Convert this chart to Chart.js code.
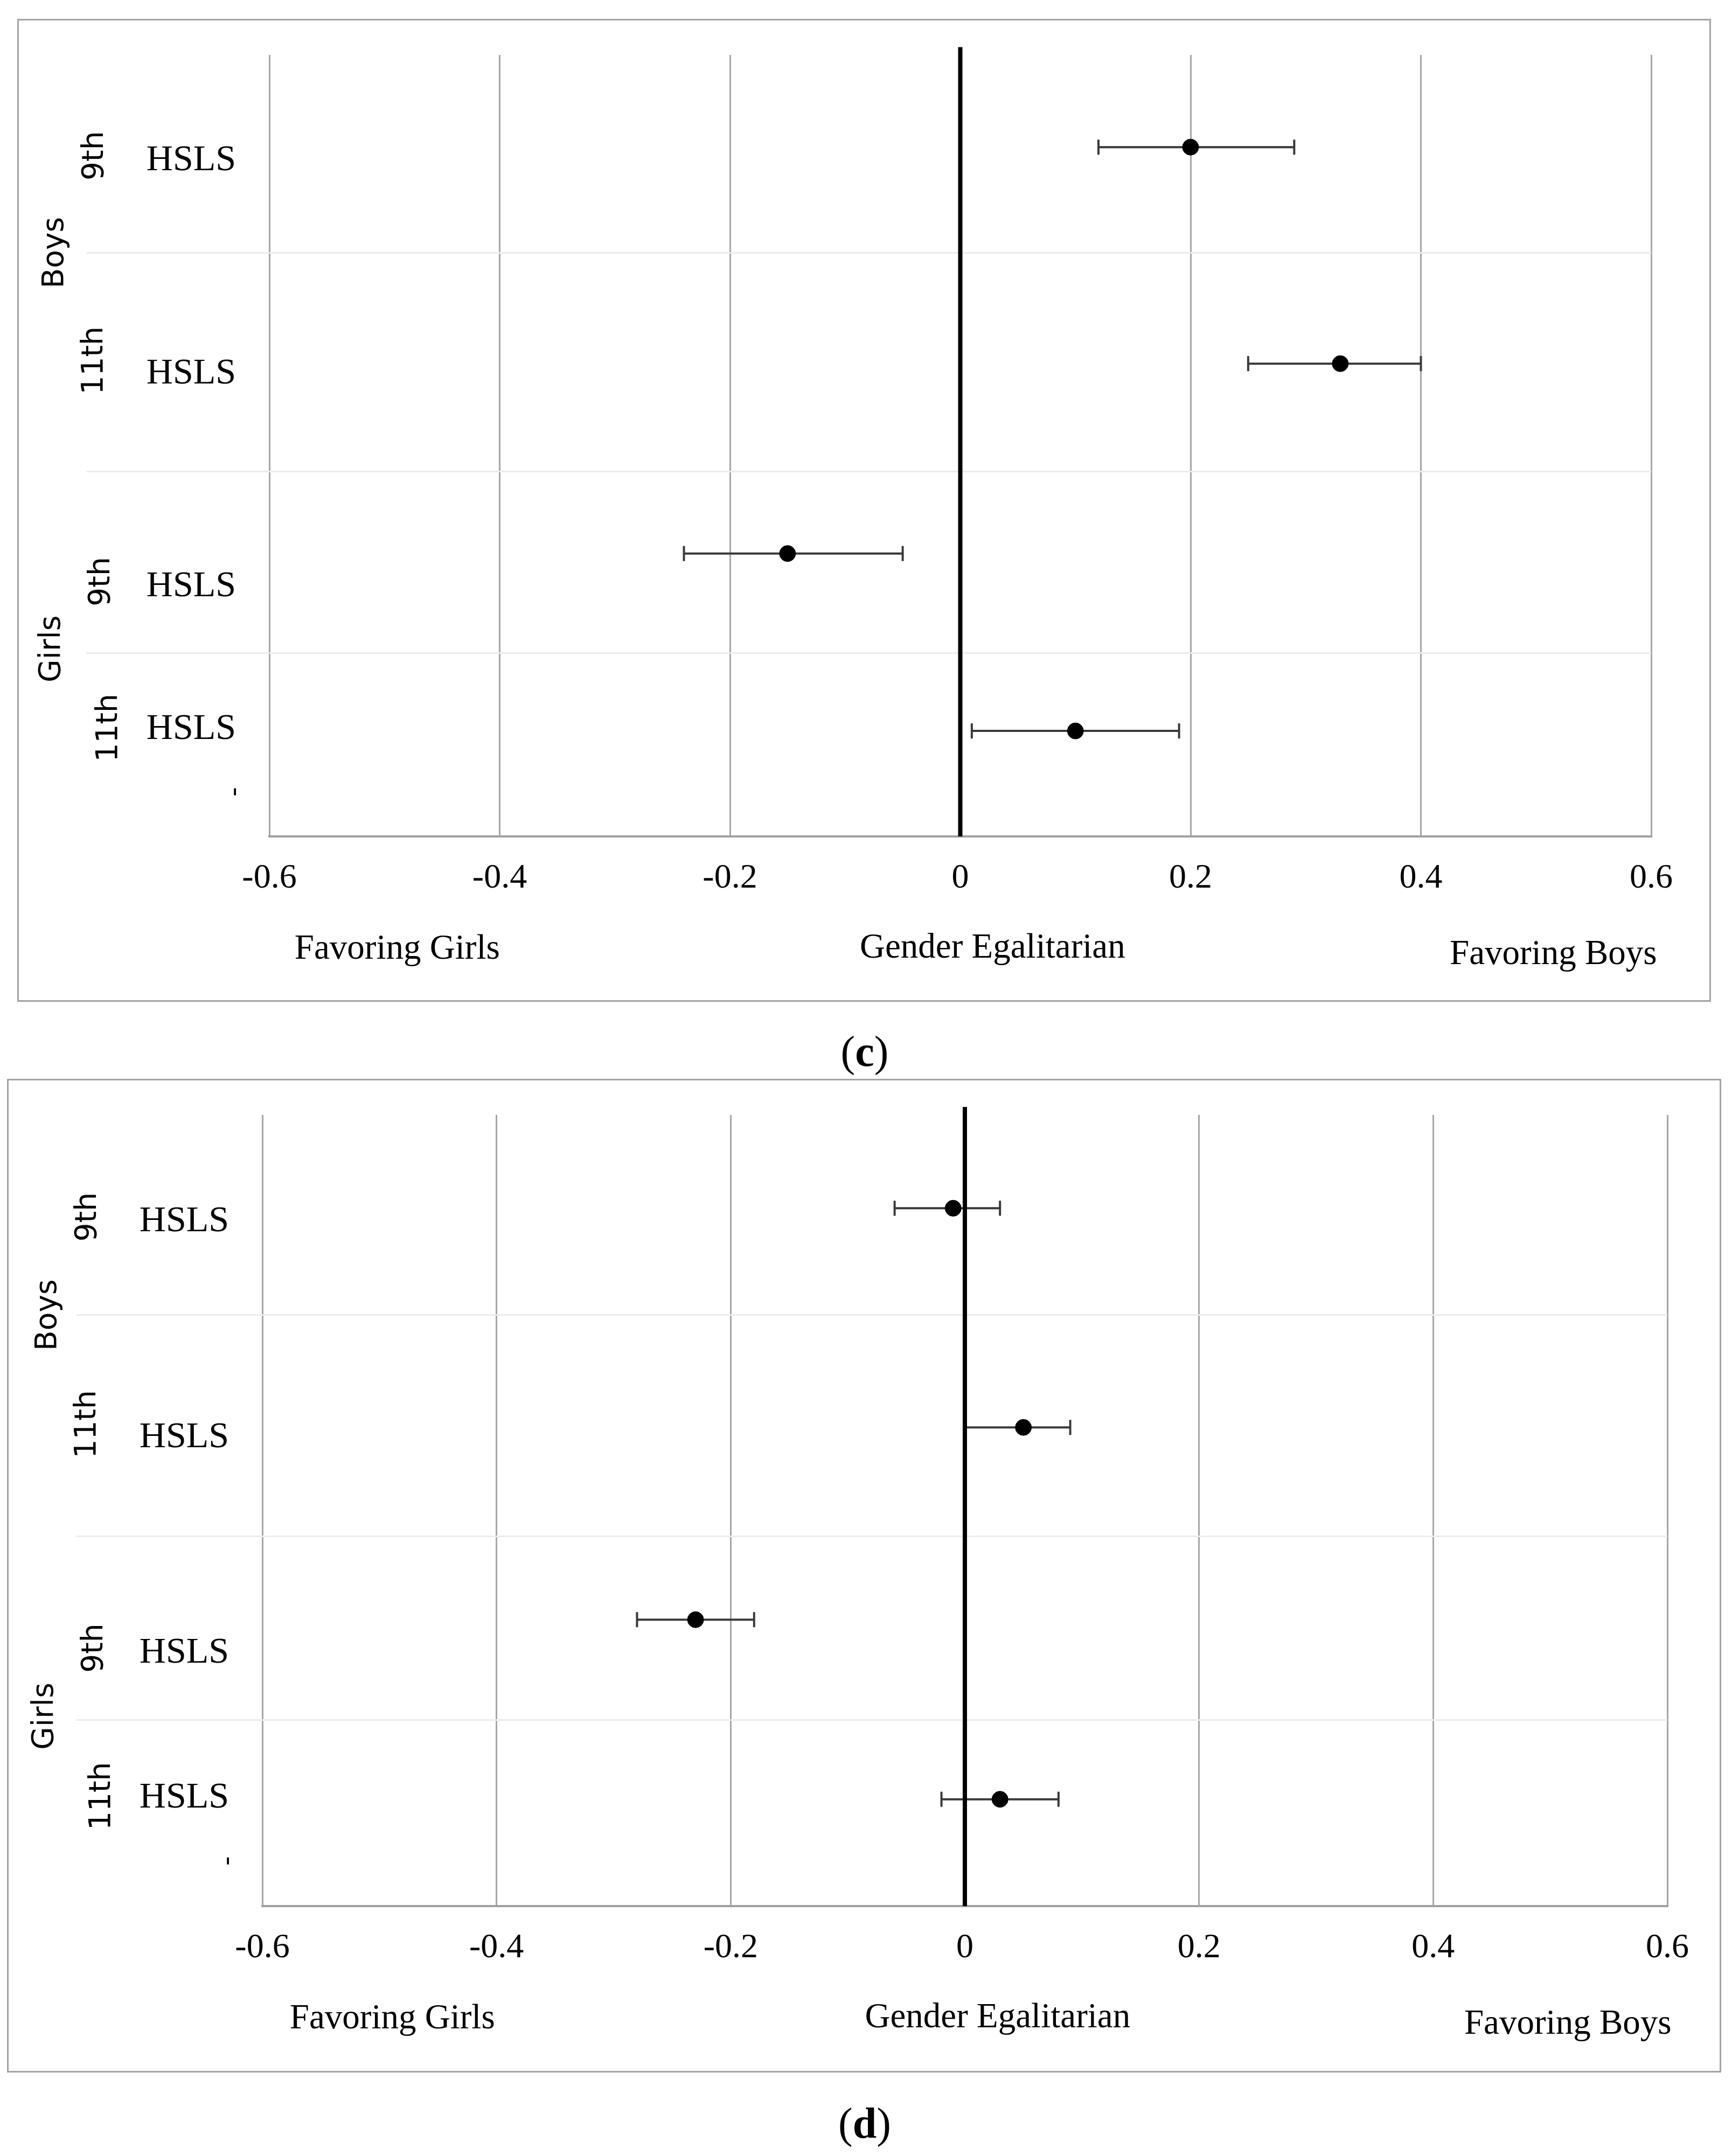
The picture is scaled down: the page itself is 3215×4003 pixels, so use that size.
<!DOCTYPE html>
<html>
<head>
<meta charset="utf-8">
<script src="https://cdn.jsdelivr.net/npm/chart.js@4.4.1/dist/chart.umd.min.js"></script>
<style>
  html, body { margin:0; padding:0; background:#fff; }
  body { width:3215px; height:4003px; position:relative; overflow:hidden; }
  .frame { position:absolute; box-sizing:border-box; border:3px solid #a3a3a3; }
  canvas { position:absolute; left:0; }
  .cap { position:absolute; font-family:"Liberation Serif","Times New Roman",serif; font-size:80px; color:#000; transform:translate(-50%,-50%); white-space:nowrap; }
</style>
</head>
<body>
<div class="frame" style="left:32px;top:35px;width:3144px;height:1825px;"></div>
<div class="frame" style="left:13px;top:2003px;width:3182px;height:1845px;"></div>
<canvas id="c1" width="3215" height="1900" style="top:0;width:3215px;height:1900px;"></canvas>
<canvas id="c2" width="3215" height="1950" style="top:1950px;width:3215px;height:1950px;"></canvas>
<div class="cap" style="left:1605px;top:1952px;">(<b>c</b>)</div>
<div class="cap" style="left:1605px;top:3942px;">(<b>d</b>)</div>
<script>
// ---------- data ----------
const groupLabels = ['Boys', 'Girls'];
const gradeLabels = ['9th', '11th', '9th', '11th'];
const surveyLabels = ['HSLS', 'HSLS', 'HSLS', 'HSLS'];
const extraLabel = '-';
const xTickValues = [-0.6, -0.4, -0.2, 0, 0.2, 0.4, 0.6];
const xTickLabels = ['-0.6', '-0.4', '-0.2', '0', '0.2', '0.4', '0.6'];
const bottomLabels = ['Favoring Girls', 'Gender Egalitarian', 'Favoring Boys'];
// row positions on the vertical (0 = top, 100 = bottom)
const rowPos = [11.8, 39.5, 63.8, 86.5];
const rowSeparators = [25.3, 53.3, 76.5];
// panel (c)
const estC = [0.20, 0.33, -0.15, 0.10];
const lowC = [0.12, 0.25, -0.24, 0.01];
const highC = [0.29, 0.40, -0.05, 0.19];
// panel (d)
const estD = [-0.01, 0.05, -0.23, 0.03];
const lowD = [-0.06, 0.00, -0.28, -0.02];
const highD = [0.03, 0.09, -0.18, 0.08];

// ---------- layout (not data) ----------
const labelLayout = {
  gradeX: [-323, -324, -311, -297], gradeY: [12.9, 39.1, 67.4, 86.1],
  groupX: [-397, -403], groupY: [25.3, 76.0],
  surveyX: -145, surveyY: [13.5, 40.8, 68.0, 86.3],
  extraX: -65, extraY: 94.3,
  bottomX: [-0.489, 0.028, 0.515], bottomDY: [210, 208, 220]
};

const labelPlugin = {
  id: 'labels',
  afterDraw(chart) {
    const ctx = chart.ctx, ca = chart.chartArea;
    const xs = chart.scales.x, ys = chart.scales.y;
    const L = labelLayout;
    ctx.save();
    ctx.fillStyle = '#000';
    ctx.textAlign = 'center';
    ctx.textBaseline = 'middle';
    ctx.font = '68px "Liberation Serif", serif';
    surveyLabels.forEach((t, i) => ctx.fillText(t, ca.left + L.surveyX, ys.getPixelForValue(L.surveyY[i])));
    const rot = (t, x, y, font) => {
      ctx.save(); ctx.translate(x, y); ctx.rotate(-Math.PI / 2); ctx.font = font; ctx.fillText(t, 0, 0); ctx.restore();
    };
    const sans = '55px "DejaVu Sans", sans-serif';
    gradeLabels.forEach((t, i) => rot(t, ca.left + L.gradeX[i], ys.getPixelForValue(L.gradeY[i]), sans));
    groupLabels.forEach((t, i) => rot(t, ca.left + L.groupX[i], ys.getPixelForValue(L.groupY[i]), sans));
    rot(extraLabel, ca.left + L.extraX, ys.getPixelForValue(L.extraY), '50px "Liberation Serif", serif');
    ctx.font = '65px "Liberation Serif", serif';
    bottomLabels.forEach((t, i) => ctx.fillText(t, xs.getPixelForValue(L.bottomX[i]), ca.bottom + L.bottomDY[i]));
    ctx.restore();
  }
};

function makeChart(id, est, low, high, box) {
  const datasets = [];
  datasets.push({
    label: 'estimate',
    data: est.map((v, i) => ({ x: v, y: rowPos[i] })),
    pointRadius: 15, pointBackgroundColor: '#000', pointBorderColor: '#000', pointBorderWidth: 1,
    showLine: false
  });
  datasets.push({
    label: 'zero',
    data: [{ x: 0, y: -1 }, { x: 0, y: 100 }],
    showLine: true, borderColor: '#000', borderWidth: 8, pointRadius: 0, clip: false
  });
  est.forEach((v, i) => {
    datasets.push({
      label: 'ci' + i,
      data: [{ x: low[i], y: rowPos[i] }, { x: high[i], y: rowPos[i] }],
      showLine: true, borderColor: '#3a3a3a', borderWidth: 4,
      pointStyle: 'line', pointRotation: 90, pointRadius: 14,
      pointBorderColor: '#3a3a3a', pointBorderWidth: 4, pointBackgroundColor: '#3a3a3a'
    });
  });
  return new Chart(document.getElementById(id), {
    type: 'scatter',
    data: { datasets },
    plugins: [labelPlugin],
    options: {
      responsive: false, animation: false, devicePixelRatio: 1,
      layout: { padding: { top: box.top, right: box.right, left: 0, bottom: 0 } },
      plugins: { legend: { display: false }, tooltip: { enabled: false } },
      scales: {
        x: {
          type: 'linear', min: -0.6, max: 0.6,
          afterBuildTicks: s => { s.ticks = xTickValues.map(v => ({ value: v })); },
          afterFit: s => { s.height = box.xh; },
          grid: { color: '#a6a6a6', lineWidth: 3, drawTicks: false },
          border: { display: true, color: '#a0a0a0', width: 4 },
          ticks: {
            padding: 40, color: '#000',
            font: { family: '"Liberation Serif", serif', size: 64 },
            callback: (v, i) => xTickLabels[i]
          }
        },
        y: {
          type: 'linear', min: 0, max: 100, reverse: true,
          afterBuildTicks: s => { s.ticks = rowSeparators.map(v => ({ value: v })); },
          afterFit: s => { s.width = box.left; },
          grid: { color: '#ebebeb', lineWidth: 3, drawTicks: true, tickLength: box.tick },
          border: { display: false },
          ticks: { display: false }
        }
      }
    }
  });
}

makeChart('c1', estC, lowC, highC, { top: 102, right: 150, left: 500, xh: 1900 - 1553, tick: 340 });
makeChart('c2', estD, lowD, highD, { top: 120, right: 120, left: 487, xh: 1950 - 1589, tick: 345 });
</script>
</body>
</html>
